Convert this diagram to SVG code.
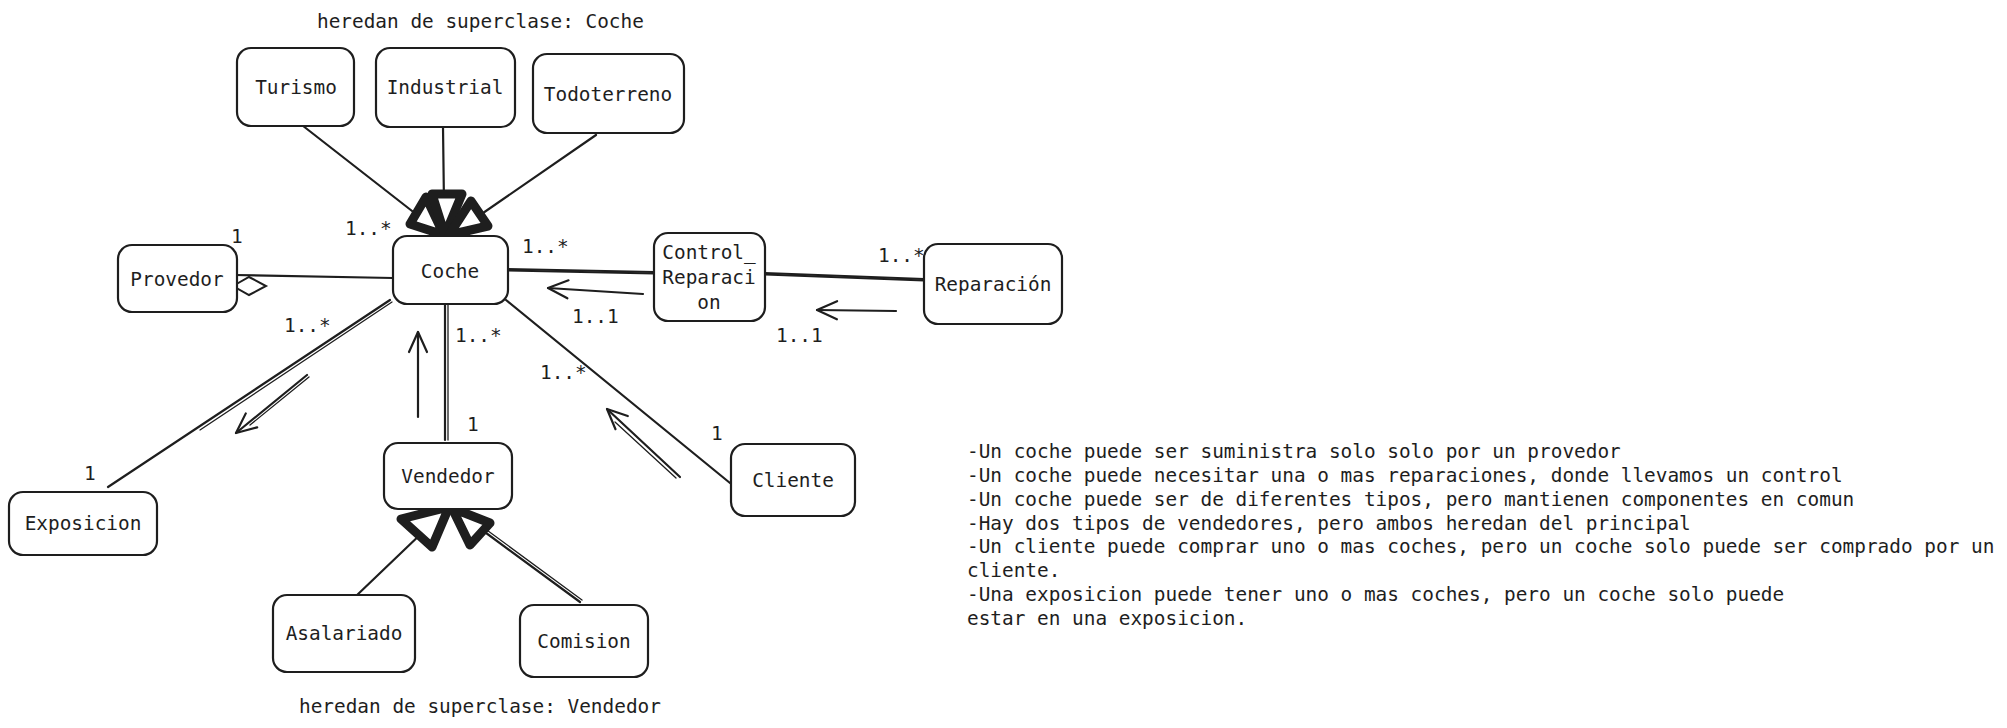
<svg xmlns="http://www.w3.org/2000/svg" width="2007" height="728" viewBox="0 0 2007 728">
<style>
  text { font-family: "DejaVu Sans Mono", "Liberation Mono", monospace; font-size: 19.4px; fill: #1e1e1e; }
  .c { text-anchor: middle; }
  .box { fill: #ffffff; stroke: #1e1e1e; stroke-width: 2.2; }
  .ln { fill: none; stroke: #1e1e1e; stroke-width: 2.2; stroke-linecap: round; }
  .thin { fill: none; stroke: #1e1e1e; stroke-width: 1.3; stroke-linecap: round; }
  .arr { fill: none; stroke: #1e1e1e; stroke-width: 2.2; stroke-linecap: round; marker-end: url(#open); }
  .inh { fill: #ffffff; stroke: #1e1e1e; stroke-width: 9; stroke-linejoin: round; }
</style>
<defs>
  <marker id="open" viewBox="0 0 24 24" refX="22" refY="12" markerWidth="24" markerHeight="24" orient="auto" markerUnits="userSpaceOnUse">
    <path d="M2,3 L22,12 L2,21" fill="none" stroke="#1e1e1e" stroke-width="2.2" stroke-linecap="round" stroke-linejoin="round"/>
  </marker>
</defs>
<rect width="2007" height="728" fill="#ffffff"/>

<g id="connectors">
  <!-- inheritance to Coche -->
  <line class="ln" x1="298" y1="122" x2="430" y2="225"/>
  <line class="ln" x1="443" y1="127" x2="444" y2="205"/>
  <line class="ln" x1="596" y1="135" x2="470" y2="222"/>
  <polygon class="inh" points="444,235 410,224 426,197"/>
  <polygon class="inh" points="445,235 432,194 462,194"/>
  <polygon class="inh" points="449,235 471,201 488,226"/>
  <!-- Provedor - Coche aggregation -->
  <line class="ln" x1="235" y1="275" x2="393" y2="278"/>
  <polygon points="233,286 249,277 266,286 249,295" fill="#ffffff" stroke="#1e1e1e" stroke-width="2"/>
  <!-- Coche - Exposicion -->
  <line class="ln" x1="390" y1="300" x2="108" y2="487"/>
  <line class="thin" x1="392" y1="302" x2="200" y2="430"/>
  <line class="arr" x1="307" y1="375" x2="236" y2="433"/>
  <line class="thin" x1="309" y1="377" x2="250" y2="425"/>
  <!-- Coche - Vendedor -->
  <line class="ln" x1="445" y1="304" x2="445" y2="440"/>
  <line class="thin" x1="448" y1="304" x2="448" y2="440"/>
  <line class="arr" x1="418" y1="417" x2="418" y2="332"/>
  <!-- Coche - Control_Reparacion -->
  <line class="ln" x1="508" y1="269" x2="654" y2="272"/>
  <line class="ln" x1="508" y1="270.5" x2="654" y2="273.5"/>
  <line class="arr" x1="643" y1="294" x2="548" y2="288"/>
  <!-- Control_Reparacion - Reparacion -->
  <line class="ln" x1="765" y1="273" x2="924" y2="279"/>
  <line class="ln" x1="765" y1="274.5" x2="924" y2="280.5"/>
  <line class="arr" x1="896" y1="311" x2="817" y2="310"/>
  <!-- Coche - Cliente -->
  <line class="ln" x1="506" y1="300" x2="730" y2="483"/>
  <line class="arr" x1="680" y1="477" x2="607" y2="409"/>
  <line class="thin" x1="676" y1="478" x2="615" y2="422"/>
  <!-- inheritance to Vendedor -->
  <line class="ln" x1="355" y1="597" x2="425" y2="530"/>
  <line class="ln" x1="580" y1="602" x2="478" y2="527"/>
  <line class="thin" x1="582" y1="600" x2="480" y2="525"/>
  <polygon class="inh" points="449,507 432,547 401,519"/>
  <polygon class="inh" points="452,508 490,523 470,545"/>
</g>

<g id="turismo"><rect class="box" x="237" y="48" width="117" height="78" rx="14"/><text class="c" x="296" y="94">Turismo</text></g>
<g id="industrial"><rect class="box" x="376" y="48" width="139" height="79" rx="14"/><text class="c" x="445" y="94">Industrial</text></g>
<g id="todoterreno"><rect class="box" x="533" y="54" width="151" height="79" rx="14"/><text class="c" x="608" y="101">Todoterreno</text></g>
<g id="coche"><rect class="box" x="393" y="236" width="115" height="68" rx="14"/><text class="c" x="450" y="278">Coche</text></g>
<g id="provedor"><rect class="box" x="118" y="245" width="119" height="67" rx="14"/><text class="c" x="177" y="286">Provedor</text></g>
<g id="control_reparacion"><rect class="box" x="654" y="233" width="111" height="88" rx="14"/><text class="c" x="709" y="259">Control_</text><text class="c" x="709" y="284">Reparaci</text><text class="c" x="709" y="309">on</text></g>
<g id="reparacion"><rect class="box" x="924" y="244" width="138" height="80" rx="14"/><text class="c" x="993" y="291">Reparación</text></g>
<g id="cliente"><rect class="box" x="731" y="444" width="124" height="72" rx="14"/><text class="c" x="793" y="487">Cliente</text></g>
<g id="exposicion"><rect class="box" x="9" y="492" width="148" height="63" rx="14"/><text class="c" x="83" y="530">Exposicion</text></g>
<g id="vendedor"><rect class="box" x="384" y="443" width="128" height="66" rx="14"/><text class="c" x="448" y="483">Vendedor</text></g>
<g id="asalariado"><rect class="box" x="273" y="595" width="142" height="77" rx="14"/><text class="c" x="344" y="640">Asalariado</text></g>
<g id="comision"><rect class="box" x="520" y="605" width="128" height="72" rx="14"/><text class="c" x="584" y="648">Comision</text></g>

<g id="labels">
  <text x="317" y="28">heredan de superclase: Coche</text>
  <text x="299" y="713">heredan de superclase: Vendedor</text>
  <text x="345" y="235">1..*</text>
  <text x="231" y="243">1</text>
  <text x="522" y="253">1..*</text>
  <text x="284" y="332">1..*</text>
  <text x="455" y="342">1..*</text>
  <text x="467" y="431">1</text>
  <text x="572" y="323">1..1</text>
  <text x="878" y="262">1..*</text>
  <text x="776" y="342">1..1</text>
  <text x="540" y="379">1..*</text>
  <text x="711" y="440">1</text>
  <text x="84" y="480">1</text>
</g>

<g id="notes">
  <text x="967" y="458">-Un coche puede ser suministra solo solo por un provedor</text>
  <text x="967" y="482">-Un coche puede necesitar una o mas reparaciones, donde llevamos un control</text>
  <text x="967" y="506">-Un coche puede ser de diferentes tipos, pero mantienen componentes en comun</text>
  <text x="967" y="530">-Hay dos tipos de vendedores, pero ambos heredan del principal</text>
  <text x="967" y="553">-Un cliente puede comprar uno o mas coches, pero un coche solo puede ser comprado por un</text>
  <text x="967" y="577">cliente.</text>
  <text x="967" y="601">-Una exposicion puede tener uno o mas coches, pero un coche solo puede</text>
  <text x="967" y="625">estar en una exposicion.</text>
</g>
</svg>
